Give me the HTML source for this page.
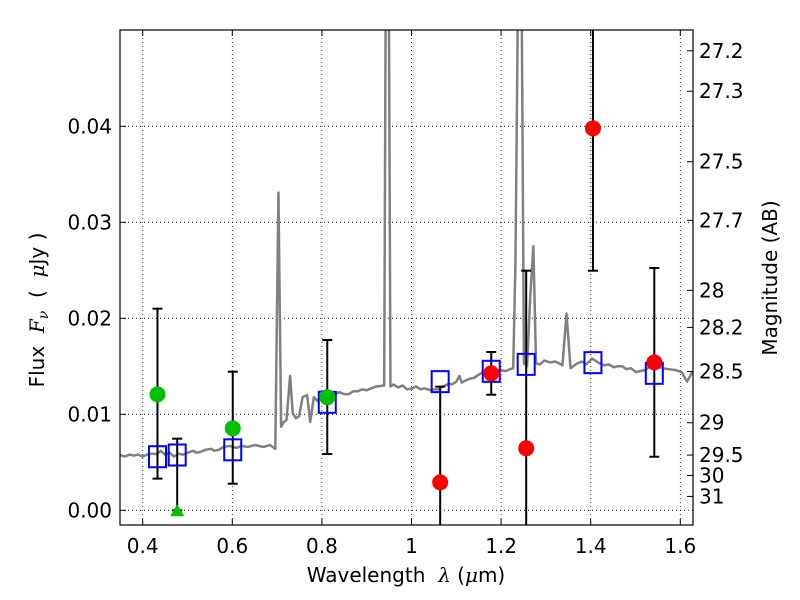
<!DOCTYPE html>
<html><head><meta charset="utf-8"><style>
html,body{margin:0;padding:0;background:#fff;}
svg{display:block;font-family:"DejaVu Sans","Liberation Sans",sans-serif;}
.m{font-family:"DejaVu Serif","Liberation Serif",serif;font-style:italic;}
</style></head><body>
<svg id="chart" width="800" height="600" viewBox="0 0 800 600" xmlns="http://www.w3.org/2000/svg">
<defs><clipPath id="clip"><rect x="120" y="30" width="573" height="495"/></clipPath></defs>
<rect x="0" y="0" width="800" height="600" fill="#fff"/>
<g id="grid"></g>
<g id="plot" clip-path="url(#clip)"></g>
<rect x="120" y="30" width="573" height="495" fill="none" stroke="#000" stroke-width="1.2"/>
<g id="axes"></g>
<text x="406" y="582" font-size="20" text-anchor="middle">Wavelength&#160;&#160;<tspan class="m">λ</tspan> (<tspan class="m">μ</tspan>m)</text>
<text transform="translate(44,310) rotate(-90)" font-size="20" text-anchor="middle">Flux&#160;&#160;<tspan class="m">F<tspan font-size="14" dy="4">ν</tspan></tspan><tspan dy="-4">&#160;&#160;(&#160;&#160;</tspan><tspan class="m">μ</tspan>Jy )</text>
<text transform="translate(777,278) rotate(-90)" font-size="20" text-anchor="middle">Magnitude (AB)</text>
</svg>
<script>
const xTicks = [0.4, 0.6, 0.8, 1.0, 1.2, 1.4, 1.6];
const xTickLabels = ["0.4", "0.6", "0.8", "1", "1.2", "1.4", "1.6"];
const yTicks = [0, 0.01, 0.02, 0.03, 0.04];
const yTickLabels = ["0.00", "0.01", "0.02", "0.03", "0.04"];
const magTicks = [27.2, 27.3, 27.5, 27.7, 28, 28.2, 28.5, 29, 29.5, 30, 31];
const magTickLabels = ["27.2", "27.3", "27.5", "27.7", "28", "28.2", "28.5", "29", "29.5", "30", "31"];
const specWave = [0.349,0.36,0.37,0.38,0.39,0.40,0.41,0.42,0.432,0.44,0.45,0.46,0.47,0.48,0.49,0.50,0.513,0.52,0.53,0.54,0.553,0.56,0.57,0.58,0.594,0.61,0.62,0.635,0.65,0.66,0.67,0.684,0.696,0.703,0.709,0.715,0.721,0.729,0.735,0.742,0.749,0.757,0.767,0.774,0.782,0.79,0.80,0.81,0.823,0.839,0.85,0.86,0.870,0.880,0.89,0.90,0.91,0.921,0.939,0.943,0.949,0.953,0.96,0.97,0.98,0.99,1.002,1.01,1.02,1.03,1.043,1.05,1.06,1.07,1.084,1.09,1.1,1.107,1.112,1.12,1.13,1.14,1.149,1.16,1.17,1.18,1.19,1.198,1.21,1.22,1.227,1.232,1.239,1.245,1.251,1.258,1.265,1.272,1.278,1.287,1.296,1.31,1.32,1.33,1.337,1.346,1.355,1.37,1.38,1.39,1.403,1.41,1.42,1.43,1.44,1.452,1.46,1.47,1.48,1.49,1.501,1.51,1.52,1.53,1.541,1.55,1.56,1.574,1.59,1.603,1.615,1.628];
const specFlux = [0.00576,0.0056,0.0058,0.0057,0.0058,0.0056,0.0058,0.0059,0.00585,0.0062,0.0058,0.0060,0.0056,0.0059,0.0058,0.0060,0.0062,0.0060,0.0061,0.0063,0.0064,0.0062,0.0063,0.0066,0.0067,0.0065,0.0067,0.0066,0.0068,0.0067,0.0066,0.0068,0.0064,0.0331,0.0087,0.0092,0.0094,0.0140,0.0101,0.0096,0.0098,0.0118,0.0120,0.0092,0.0118,0.0114,0.0119,0.0121,0.0120,0.0123,0.0121,0.0121,0.0124,0.0124,0.0126,0.0125,0.0127,0.0129,0.0130,0.060,0.060,0.0129,0.0131,0.0128,0.0130,0.0126,0.0127,0.0129,0.0126,0.0127,0.0125,0.0126,0.0126,0.0129,0.0132,0.0131,0.0134,0.0140,0.0133,0.0135,0.0137,0.0138,0.0141,0.0144,0.0140,0.0142,0.0145,0.0146,0.0145,0.0147,0.0148,0.0257,0.060,0.060,0.0153,0.0150,0.0222,0.0275,0.0153,0.0152,0.0156,0.0154,0.0155,0.0153,0.0151,0.0205,0.0148,0.0153,0.0155,0.0152,0.0158,0.0156,0.0153,0.0151,0.0152,0.0149,0.0150,0.0150,0.0147,0.0148,0.0144,0.0145,0.0146,0.0149,0.0151,0.0150,0.0148,0.0147,0.0146,0.0144,0.0134,0.0145];
const modelWave = [0.433,0.477,0.601,0.812,1.064,1.178,1.256,1.405,1.542];
const modelFlux = [0.00558,0.00576,0.0063,0.01125,0.0134,0.01448,0.0152,0.01538,0.01427];
const greenWave = [0.433,0.601,0.812];
const greenFlux = [0.01208,0.00854,0.01177];
const greenHi = [0.021,0.01444,0.01774];
const greenLo = [0.0033,0.00277,0.00586];
const limitWave = [0.477];
const limitFlux = [0.0];
const limitHi = [0.00746];
const redWave = [1.064,1.178,1.256,1.405,1.542];
const redFlux = [0.00291,0.01427,0.00646,0.03979,0.01541];
const redHi = [0.01288,0.01649,0.02496,0.07,0.02524];
const redLo = [-0.01,0.01204,-0.01,0.02496,0.00558];

const X = l => 142.7 + (l - 0.4) * 448;
const Y = f => 510.3 - f * 9600;
const magToFlux = m => Math.pow(10, (23.9 - m) / 2.5);
const NS = "http://www.w3.org/2000/svg";
function mk(tag, parent, attrs){const e=document.createElementNS(NS,tag);for(const k in attrs)e.setAttribute(k,attrs[k]);parent.appendChild(e);return e;}
const grid=document.getElementById('grid'), plot=document.getElementById('plot'), axes=document.getElementById('axes');

xTicks.forEach((t,i)=>{
  const g=mk('line',grid,{x1:X(t),x2:X(t),y1:30,y2:525,stroke:'#000','stroke-width':0.8,'stroke-dasharray':'1,3'});
  
  
  mk('line',axes,{x1:X(t),x2:X(t),y1:525,y2:519,stroke:'#000'});
  mk('line',axes,{x1:X(t),x2:X(t),y1:30,y2:36,stroke:'#000'});
  const tx=mk('text',axes,{x:X(t),y:553,'font-size':20,'text-anchor':'middle'});
  tx.textContent=xTickLabels[i];
  
  
});
yTicks.forEach((t,i)=>{
  const g=mk('line',grid,{x1:120,x2:693,y1:Y(t),y2:Y(t),stroke:'#000','stroke-width':0.8,'stroke-dasharray':'1,3'});
  
  
  mk('line',axes,{x1:120,x2:126,y1:Y(t),y2:Y(t),stroke:'#000'});
  const tx=mk('text',axes,{x:112,y:Y(t)+7,'font-size':20,'text-anchor':'end'});
  tx.textContent=yTickLabels[i];
  
  
});
magTicks.forEach((m,i)=>{
  const y=Y(magToFlux(m));
  mk('line',axes,{x1:693,x2:687,y1:y,y2:y,stroke:'#000'});
  const tx=mk('text',axes,{x:699,y:y+7,'font-size':20});
  tx.textContent=magTickLabels[i];
  
  
});

const spec=mk('polyline',plot,{points:specWave.map((l,i)=>X(l)+','+Y(specFlux[i])).join(' '),fill:'none',stroke:'#808080','stroke-width':2.5,'stroke-linejoin':'round'});



function errbar(l,lo,hi){
  mk('line',plot,{x1:X(l),x2:X(l),y1:Y(lo),y2:Y(hi),stroke:'#000','stroke-width':2});
  [lo,hi].forEach(v=>mk('line',plot,{x1:X(l)-5,x2:X(l)+5,y1:Y(v),y2:Y(v),stroke:'#000','stroke-width':2}));
}
greenWave.forEach((l,i)=>errbar(l,greenLo[i],greenHi[i]));
limitWave.forEach((l,i)=>errbar(l,limitFlux[i],limitHi[i]));
redWave.forEach((l,i)=>errbar(l,redLo[i],redHi[i]));

modelWave.forEach((l,i)=>{
  const r=mk('rect',plot,{x:X(l)-8.5,y:Y(modelFlux[i])-10.5,width:17,height:21,fill:'none',stroke:'#0000ff','stroke-width':2});
  
  
});
greenWave.forEach((l,i)=>{
  const c=mk('circle',plot,{cx:X(l),cy:Y(greenFlux[i]),r:8,fill:'#00bf00'});
  
  
});
limitWave.forEach((l,i)=>{
  const x=X(l), y=Y(limitFlux[i]);
  const t=mk('polygon',plot,{points:`${x},${y-6} ${x-7},${y+6} ${x+7},${y+6}`,fill:'#00bf00'});
  
  
});
redWave.forEach((l,i)=>{
  const c=mk('circle',plot,{cx:X(l),cy:Y(redFlux[i]),r:8,fill:'#ff0000'});
  
  
});
</script>
</body></html>
